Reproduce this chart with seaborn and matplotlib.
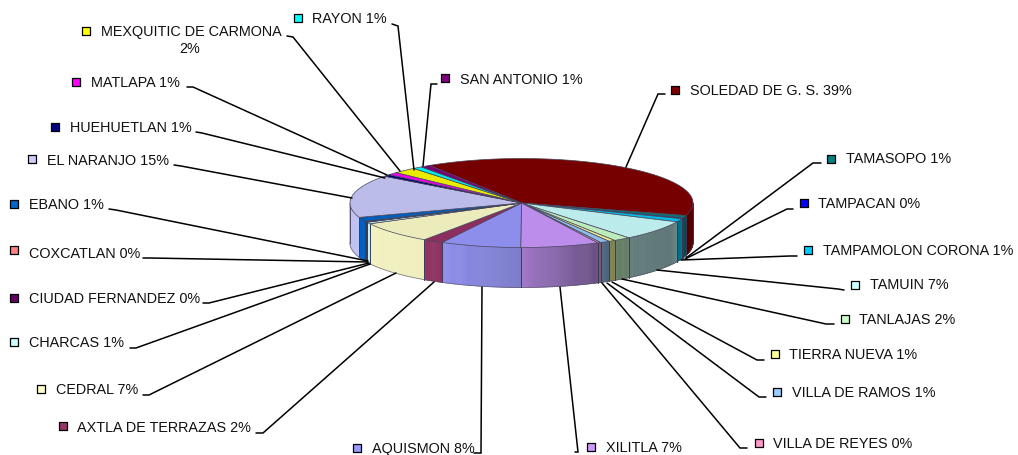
# 3D style pie of municipalities, redrawn with seaborn + matplotlib
import numpy as np
import pandas as pd
import matplotlib
matplotlib.use('Agg')
import matplotlib.pyplot as plt
import seaborn as sns
from matplotlib.collections import PolyCollection
from matplotlib.colors import to_rgb
from matplotlib.patches import Polygon

municipios = ['SOLEDAD DE G. S.', 'TAMASOPO', 'TAMPACAN', 'TAMPAMOLON CORONA', 'TAMUIN',
              'TANLAJAS', 'TIERRA NUEVA', 'VILLA DE RAMOS', 'VILLA DE REYES', 'XILITLA',
              'AQUISMON', 'AXTLA DE TERRAZAS', 'CEDRAL', 'CHARCAS', 'CIUDAD FERNANDEZ',
              'COXCATLAN', 'EBANO', 'EL NARANJO', 'HUEHUETLAN', 'MATLAPA',
              'MEXQUITIC DE CARMONA', 'RAYON', 'SAN ANTONIO']
valores = [38.6, 0.9, 0.3, 1.2, 7.3, 1.6, 0.6, 0.9, 0.3, 7.4, 7.6, 1.9, 7.7, 0.6, 0.2, 0.2,
           1.5, 15.5, 0.7, 1.0, 2.2, 0.9, 0.9]
etiquetas = ['39%', '1%', '0%', '1%', '7%', '2%', '1%', '1%', '0%', '7%', '8%', '2%',
             '7%', '1%', '0%', '0%', '1%', '15%', '1%', '1%', '2%', '1%', '1%']
colores = ['#800000', '#008080', '#0000FF', '#00CCFF', '#CCFFFF', '#CCFFCC', '#FFFF99',
           '#99CCFF', '#FF99CC', '#CC99FF', '#9999FF', '#993366', '#FFFFCC', '#CCFFFF',
           '#660066', '#FF8080', '#0066CC', '#CCCCFF', '#000080', '#FF00FF', '#FFFF00',
           '#00FFFF', '#800080']

# label layout in pixels: key x, key y, text x, text y
cuadros_x = [675, 831, 804, 808, 855, 845, 775, 777, 759, 591, 357, 63, 41, 14, 14, 14, 14, 32, 55, 76, 86, 298, 445]
cuadros_y = [90, 159, 203, 250, 285, 319, 354, 392, 443, 447, 448, 426, 389, 342, 298, 250, 204, 159, 127, 82, 31, 18, 78]
texto_x = [690, 846, 818, 823, 870, 859, 789, 792, 773, 606, 372, 77, 56, 29, 29, 29, 29, 47, 70, 91, 101, 312, 460]
texto_y = [91, 159, 204, 251, 285, 320, 355, 393, 444, 448, 449, 428, 390, 343, 299, 254, 205, 161, 128, 83, 32, 19, 80]

# leader lines: label end, elbow, point on the pie
lineas = [
    [(665, 94), (658, 94), (626, 167)], [(821, 163), (813, 163), (686, 258)],
    [(793, 209), (787, 209), (685, 259)], [(797, 256), (790, 256), (681, 260)],
    [(844, 290), (838, 289), (657, 270)], [(834, 324), (826, 324), (622, 279)],
    [(764, 360), (757, 360), (612, 282)], [(766, 397), (759, 397), (607, 283)],
    [(747, 448), (740, 448), (602, 283)], [(575, 452), (578, 452), (560, 287)],
    [(474, 453), (481, 453), (482, 287)], [(256, 433), (263, 433), (434, 282)],
    [(143, 395), (149, 395), (396, 273)], [(130, 348), (136, 348), (370, 264)],
    [(203, 303), (209, 303), (369, 263)], [(143, 258), (150, 258), (368, 262)],
    [(109, 209), (116, 210), (368, 261)], [(174, 165), (181, 166), (352, 198)],
    [(196, 132), (202, 133), (385, 178)], [(187, 87), (193, 87), (387, 175)],
    [(287, 36), (293, 37), (400, 171)], [(392, 24), (398, 26), (414, 170)],
    [(437, 84), (431, 84), (423, 166)],
]

sns.set_theme(style='white')
plt.rcParams['font.family'] = ['Liberation Sans', 'DejaVu Sans']

fig = plt.figure(figsize=(10.18, 4.55), dpi=100)
ax = fig.add_axes([0, 0, 1, 1])

cx, cy, rx, ry, prof = 521.5, 203, 171.5, 44.5, 40
inicio = -32.5


def borde(ang):
    r = np.radians(ang)
    return cx + rx * np.sin(r), cy - ry * np.cos(r)


def sombra(x):
    return np.interp(x, [350, 440, 521, 600, 670, 690], [0.95, 0.93, 0.78, 0.5, 0.47, 0.65])


total = sum(valores)
limites = inicio + np.concatenate([[0], np.cumsum(valores)]) / total * 360
tema = sns.color_palette(colores)

# side wall, only the front half (90 to 270 degrees) can be seen
for i in range(len(valores)):
    a0, a1 = max(limites[i], 90), min(limites[i + 1], 270)
    if a1 <= a0:
        continue
    angs = np.linspace(a0, a1, max(2, int((a1 - a0) * 3)))
    xs, ys = borde(angs)
    quads, cols = [], []
    base = np.array(to_rgb(tema[i]))
    for j in range(len(angs) - 1):
        quads.append([(xs[j], ys[j]), (xs[j + 1], ys[j + 1]),
                      (xs[j + 1], ys[j + 1] + prof), (xs[j], ys[j] + prof)])
        cols.append(base * sombra((xs[j] + xs[j + 1]) / 2))
    ax.add_collection(PolyCollection(quads, facecolors=cols, edgecolors=cols, linewidths=0.4, zorder=2))
    ax.plot([xs[0], xs[0]], [ys[0], ys[0] + prof], color='#3a3a55', lw=0.7, alpha=0.85, zorder=3)
    ax.plot([xs[-1], xs[-1]], [ys[-1], ys[-1] + prof], color='#3a3a55', lw=0.7, alpha=0.85, zorder=3)
    ax.plot(xs, ys + prof, color='#555566', lw=0.6, alpha=0.7, zorder=3)

# top of the pie
for i in range(len(valores)):
    angs = np.linspace(limites[i], limites[i + 1], max(2, int(valores[i] * 8)))
    xs, ys = borde(angs)
    pts = np.column_stack([np.r_[cx, xs], np.r_[cy, ys]])
    color = np.array(to_rgb(tema[i])) * 0.92
    ax.add_patch(Polygon(pts, closed=True, facecolor=color, edgecolor='#45455a', lw=0.5, zorder=4))

for linea in lineas:
    ax.plot(*zip(*linea), color='black', lw=1.1, solid_joinstyle='miter', zorder=5)

for i, nombre in enumerate(municipios):
    if nombre == 'MEXQUITIC DE CARMONA':
        ax.text(texto_x[i], texto_y[i], nombre, fontsize=10.4, color='#111111', va='center', zorder=6)
        ax.text(texto_x[i] + 89, texto_y[i] + 17, etiquetas[i], fontsize=10.4, color='#111111',
                ha='center', va='center', zorder=6)
    else:
        ax.text(texto_x[i], texto_y[i], nombre + ' ' + etiquetas[i], fontsize=10.4, color='#111111',
                va='center', zorder=6)

claves = pd.DataFrame({'municipio': municipios, 'x': cuadros_x, 'y': cuadros_y})
sns.scatterplot(data=claves, x='x', y='y', hue='municipio', palette=colores, marker='s', s=30,
                edgecolor='black', linewidth=0.9, legend=False, ax=ax, zorder=6)

ax.set_xlim(0, 1018)
ax.set_ylim(455, 0)
ax.set_axis_off()
fig.savefig('out.png', dpi=100, facecolor='white')
